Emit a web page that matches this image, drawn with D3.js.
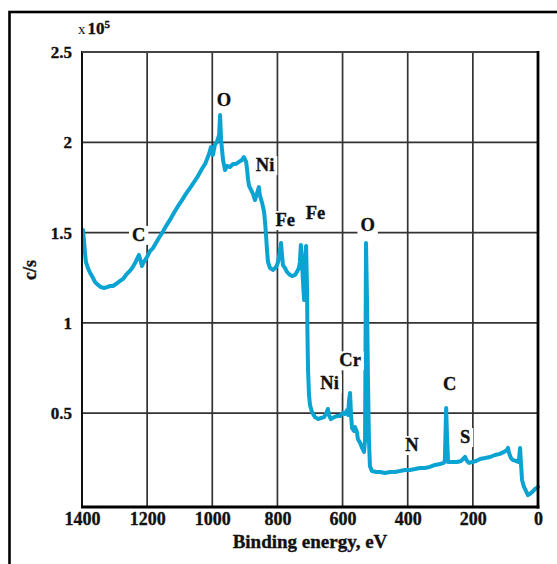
<!DOCTYPE html>
<html>
<head>
<meta charset="utf-8">
<script src="https://cdn.jsdelivr.net/npm/d3@7"></script>
<style>
  html, body { margin: 0; padding: 0; background: #fff; }
  svg { display: block; }
  text { font-family: "Liberation Serif", "Times New Roman", serif; font-weight: bold; fill: #111; stroke: #111; stroke-width: 0.35px; }
</style>
</head>
<body>
<svg id="chart" width="557" height="564"></svg>
<script>
// ---- data: binding energy (eV) and intensity (c/s, x 10^5) ----
const bindingEnergy = [
 1397,1394,1391,1388,1382,1375,1366,1360,1351,1342,1332,1323,1314,1305,1296,1283,1274,1265,1256,1246,
 1237,1231,1225,1219,1216,1210,1200,1191,1182,1173,1164,1154,1142,1130,1118,1105,1093,1081,1068,1056,
 1044,1032,1022,1016,1010,1004,998,992,986,979,976,973,970,967,961,955,946,936,927,918,
 909,903,896,893,890,887,881,875,869,863,857,854,847,841,838,835,832,829,823,814,
 804,798,792,789,786,783,777,771,761,755,746,740,734,731,728,725,721,718,715,712,
 709,708,706,703,700,694,685,675,666,657,651,645,642,636,626,617,608,599,593,586,
 583,580,577,574,571,565,562,556,553,546,540,534,531,528,525,522,519,516,510,497,
 485,470,454,439,424,408,393,378,362,347,332,316,301,289,286,282,279,276,264,249,
 236,230,224,218,212,203,190,178,163,147,132,117,104,95,92,89,83,77,68,61,
 58,55,52,49,43,37,31,25,18,9,0
];
const intensity = [
 1.514,1.459,1.392,1.337,1.304,1.276,1.248,1.226,1.210,1.198,1.193,1.198,1.204,1.204,1.215,1.232,1.243,1.265,1.282,1.304,
 1.331,1.354,1.376,1.337,1.315,1.337,1.365,1.398,1.414,1.442,1.470,1.498,1.536,1.570,1.608,1.647,1.680,1.714,1.747,1.780,
 1.813,1.852,1.880,1.907,1.935,1.974,1.930,1.985,2.002,2.040,2.151,2.013,1.957,1.902,1.846,1.869,1.863,1.880,1.880,1.891,
 1.902,1.918,1.891,1.846,1.791,1.758,1.736,1.714,1.680,1.714,1.752,1.708,1.664,1.614,1.558,1.486,1.403,1.337,1.304,1.293,
 1.309,1.337,1.403,1.442,1.376,1.320,1.304,1.282,1.265,1.259,1.265,1.282,1.304,1.337,1.431,1.348,1.210,1.126,1.337,1.426,
 1.182,0.960,0.739,0.600,0.545,0.506,0.478,0.467,0.473,0.478,0.495,0.523,0.490,0.467,0.478,0.484,0.484,0.501,0.495,0.517,
 0.490,0.573,0.611,0.490,0.418,0.401,0.423,0.395,0.357,0.334,0.307,0.285,0.351,1.442,1.126,0.683,0.351,0.207,0.179,0.174,
 0.174,0.168,0.174,0.174,0.179,0.185,0.185,0.190,0.196,0.196,0.202,0.213,0.218,0.224,0.240,0.528,0.351,0.229,0.229,0.229,
 0.235,0.246,0.257,0.235,0.224,0.229,0.235,0.246,0.251,0.257,0.268,0.274,0.285,0.296,0.307,0.279,0.251,0.240,0.235,0.229,
 0.251,0.307,0.213,0.130,0.091,0.069,0.046,0.052,0.063,0.080,0.091
];
const xTicks = [1400, 1200, 1000, 800, 600, 400, 200, 0];
const yTicks = [0.5, 1, 1.5, 2, 2.5];
const xGrid = [1200, 1000, 800, 600, 400, 200];
const yGrid = [0.5, 1, 1.5, 2];
const peakNames = ["C", "O", "Ni", "Fe", "Fe", "O", "Cr", "Ni", "C", "N", "S"];
const peakEnergy = [1226, 964, 838, 776, 683, 523, 577, 640, 271, 387, 224];
const peakLevel = [1.454, 2.201, 1.840, 1.536, 1.575, 1.508, 0.759, 0.632, 0.627, 0.290, 0.334];
const xTitle = "Binding energy, eV";
const yTitle = "c/s";

(function () {
// ---- layout ----
const svg = d3.select("#chart");
const pL = 82, pR = 538, pT = 52, pB = 507;
const x = d3.scaleLinear().domain([1400, 0]).range([pL, pR]);
const y = d3.scaleLinear().domain([-0.02, 2.5]).range([pB, pT]);

// outer frame
svg.append("rect").attr("x", 9.5).attr("y", 12).attr("width", 700).attr("height", 700)
  .attr("fill", "none").attr("stroke", "#000").attr("stroke-width", 2.6);

// grid
const g = svg.append("g");
g.selectAll(".vg").data(xGrid).join("line")
  .attr("x1", d => x(d)).attr("x2", d => x(d)).attr("y1", pT).attr("y2", pB)
  .attr("stroke", "#333").attr("stroke-width", 1.7);
g.selectAll(".hg").data(yGrid).join("line")
  .attr("x1", pL).attr("x2", pR).attr("y1", d => y(d)).attr("y2", d => y(d))
  .attr("stroke", "#333").attr("stroke-width", 1.7);

// spectrum
const pts = bindingEnergy.map((e, i) => [e, intensity[i]]);
svg.append("path").datum(pts)
  .attr("fill", "none").attr("stroke", "#0aa3d2").attr("stroke-width", 4)
  .attr("stroke-linejoin", "round").attr("stroke-linecap", "round")
  .attr("d", d3.line().x(d => x(d[0])).y(d => y(d[1])));

// plot frame
svg.append("line").attr("x1", pL).attr("x2", pL).attr("y1", pT - 1).attr("y2", pB + 1)
  .attr("stroke", "#111").attr("stroke-width", 2);
svg.append("line").attr("x1", pL).attr("x2", pR).attr("y1", pT).attr("y2", pT)
  .attr("stroke", "#444").attr("stroke-width", 2);
svg.append("line").attr("x1", pR).attr("x2", pR).attr("y1", pT - 1).attr("y2", pB + 1.5)
  .attr("stroke", "#000").attr("stroke-width", 2.8);
svg.append("line").attr("x1", pL - 1).attr("x2", pR + 1.4).attr("y1", pB).attr("y2", pB)
  .attr("stroke", "#000").attr("stroke-width", 2.8);

// peak labels with white boxes
const lab = svg.append("g");
peakNames.forEach((name, i) => {
  const t = lab.append("text")
    .attr("x", x(peakEnergy[i])).attr("y", y(peakLevel[i]))
    .attr("text-anchor", "middle").attr("font-size", 18.5).text(name);
  const b = t.node().getBBox();
  lab.insert("rect", "text")
    .attr("x", b.x - 3).attr("y", b.y + 1).attr("width", b.width + 6).attr("height", b.height - 1)
    .attr("fill", "#fff").attr("stroke", "none");
});

// axes
const xAxis = svg.append("g").attr("transform", `translate(0,${pB})`)
  .call(d3.axisBottom(x).tickValues(xTicks).tickSize(0).tickPadding(5).tickFormat(d => String(d)));
xAxis.select(".domain").remove();
xAxis.selectAll("text").attr("font-size", 18).attr("font-family", "Liberation Serif")
  .attr("font-weight", "bold").attr("fill", "#111");

const yAxis = svg.append("g").attr("transform", `translate(${pL},0)`)
  .call(d3.axisLeft(y).tickValues(yTicks).tickSize(0).tickPadding(10).tickFormat(d => String(d)));
yAxis.select(".domain").remove();
yAxis.selectAll("text").attr("font-size", 17).attr("font-family", "Liberation Serif")
  .attr("font-weight", "bold").attr("fill", "#111");

// axis titles
svg.append("text").attr("x", 310).attr("y", 548).attr("text-anchor", "middle")
  .attr("font-size", 19).text(xTitle);
svg.append("text").attr("transform", "translate(36,270) rotate(-90)")
  .attr("text-anchor", "middle").attr("font-size", 18)
  .attr("font-family", "DejaVu Serif").text(yTitle);

// multiplier
const m = svg.append("text").attr("x", 78).attr("y", 33.5);
m.append("tspan").attr("font-weight", "normal").attr("font-size", 15).attr("stroke-width", 0).text("x");
m.append("tspan").attr("dx", 2).attr("font-size", 17).text("10");
m.append("tspan").attr("dy", -6).attr("font-size", 11).text("5");
})();
</script>
</body>
</html>
